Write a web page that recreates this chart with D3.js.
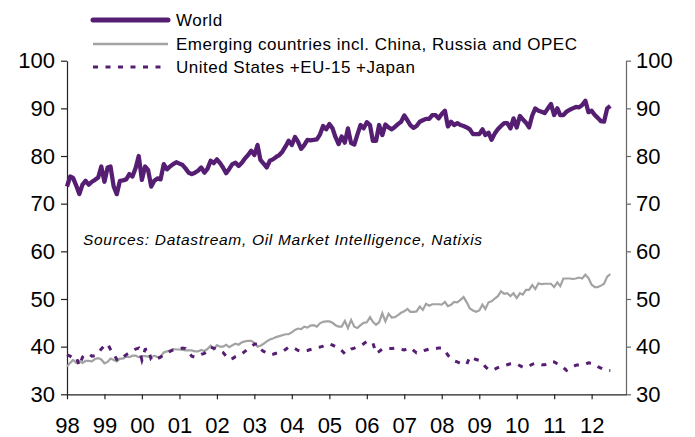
<!DOCTYPE html>
<html>
<head>
<meta charset="utf-8">
<script src="https://cdn.jsdelivr.net/npm/d3@7"></script>
<style>
body { margin: 0; background: #fff; }
text { font-family: "Liberation Sans", Arial, sans-serif; fill: #000; }
</style>
</head>
<body>
<svg id="chart" width="695" height="437"></svg>
<script>
// monthly values, Jan 1998 -> Jul 2012
var firstMonth = new Date(1998, 0, 1);

var world = [
  73.6, 75.7, 75.4, 73.8, 72.0, 74.0, 74.8, 74.0, 74.6, 75.0, 75.5, 77.8,
  74.6, 77.6, 77.8, 73.6, 72.0, 74.8, 74.9, 75.1, 76.2, 75.7, 77.5, 80.0,
  75.0, 77.8, 77.1, 73.6, 74.8, 75.3, 75.1, 78.3, 77.2, 77.8, 78.3, 78.7,
  78.4, 78.1, 77.4, 76.5, 76.2, 76.5, 76.9, 77.6, 76.5, 77.3, 79.0, 78.5,
  79.3, 78.5, 77.6, 76.4, 77.3, 78.3, 78.6, 77.9, 78.6, 79.5, 80.2, 81.1,
  80.2, 82.3, 79.2, 78.4, 77.6, 79.0, 79.3, 79.8, 80.2, 80.9, 82.0, 83.2,
  82.3, 84.0, 83.0, 81.5, 82.3, 83.4, 83.3, 83.4, 83.5, 84.5, 86.3, 85.6,
  86.7, 85.8, 84.0, 82.5, 84.1, 82.8, 85.8, 82.7, 82.4, 84.5, 86.5, 85.8,
  87.1, 86.5, 83.2, 83.2, 86.5, 84.4, 86.6, 86.0, 85.6, 86.1, 86.7, 87.2,
  88.5, 87.5, 86.5, 85.9, 86.3, 87.2, 87.5, 87.8, 87.8, 88.6, 88.6, 87.9,
  88.8, 89.5, 86.2, 87.2, 86.5, 86.9, 86.5, 86.3, 86.0, 85.6, 84.6, 84.6,
  84.6, 85.6, 84.4, 84.9, 83.4, 84.7, 85.6, 86.3, 86.9, 86.9, 85.8, 87.9,
  86.0, 88.4, 87.7, 87.0, 86.0, 88.5, 90.0, 89.5, 89.3, 89.0, 90.0, 90.9,
  88.6, 90.0, 88.6, 88.6, 89.3, 89.7, 90.0, 90.3, 90.2, 90.7, 91.6, 89.2,
  89.5, 88.6, 88.0, 87.3, 87.2, 90.0, 90.5
];

var emerging = [
  35.8, 36.6, 37.2, 36.6, 37.0, 36.6, 37.0, 37.0, 36.9, 37.4, 37.6, 37.3,
  36.5, 36.8, 37.5, 37.2, 36.9, 37.5, 37.5, 37.9, 37.8, 38.1, 38.1, 37.8,
  38.0, 38.0, 37.9, 37.8, 38.1, 37.8, 37.9, 38.8, 39.0, 39.2, 39.5, 39.4,
  39.4, 39.3, 39.2, 39.2, 39.2, 39.0, 39.0, 39.3, 39.1, 39.5, 40.2, 39.4,
  40.3, 40.0, 40.0, 40.4, 39.9, 40.3, 40.6, 40.4, 40.9, 41.1, 41.2, 41.2,
  40.8, 40.0, 40.2, 40.6, 41.1, 41.5, 41.7, 42.0, 42.2, 42.4, 42.6, 42.6,
  43.0, 43.5, 43.8, 43.7, 44.2, 44.0, 44.4, 44.5, 44.2, 44.9, 45.2, 45.3,
  45.3, 45.0, 44.5, 44.2, 44.2, 45.4, 43.9, 45.6, 44.2, 43.9, 44.5, 45.0,
  45.1, 46.2, 45.2, 44.6, 45.1, 47.0, 45.3, 46.9, 46.1, 46.2, 46.6, 47.1,
  47.4, 47.9, 47.3, 47.3, 47.4, 48.4, 47.7, 49.0, 48.6, 48.9, 48.9, 48.9,
  48.8, 49.4, 48.5, 48.8, 49.4, 49.3, 49.8, 50.4, 49.3, 48.0, 47.6, 47.3,
  47.6, 48.8, 47.9, 49.3, 49.5, 50.1, 50.6, 51.6, 51.1, 51.2, 50.6, 51.2,
  50.2, 51.2, 50.9, 51.9, 51.9, 52.9, 52.1, 53.3, 53.1, 53.2, 53.2, 53.2,
  52.5, 53.5, 52.7, 54.3, 54.3, 54.3, 54.2, 54.3, 54.5, 54.3, 55.1, 54.4,
  53.0, 52.5, 52.5, 52.8, 53.2, 54.7, 55.2
];

var developed = [
  38.3, 38.0, 37.6, 37.8, 36.0, 37.8, 38.3, 38.5, 38.0, 38.1, 38.7, 39.5,
  40.2, 40.6, 39.4, 38.5, 37.3, 37.1, 37.8, 38.3, 38.7, 39.1, 39.5, 39.7,
  37.2, 39.4, 39.6, 37.3, 37.1, 37.5, 37.8, 38.3, 38.7, 39.0, 39.3, 39.4,
  39.5, 39.7, 39.6, 38.8, 38.0, 37.8, 38.0, 38.4, 38.6, 39.2, 39.9, 39.7,
  39.5, 39.2, 38.8, 38.0, 37.3, 37.5, 37.9, 38.2, 38.5, 39.0, 39.6, 40.0,
  40.5, 40.6, 39.5, 39.0, 38.7, 38.3, 38.4, 38.6, 38.7, 38.9, 39.4, 39.9,
  39.9, 39.6, 39.2, 39.0, 39.1, 39.2, 39.4, 39.6, 39.8, 39.9, 40.1, 40.4,
  40.6, 40.3, 40.0, 39.8, 39.2, 38.5, 39.0, 39.5, 39.7, 40.0, 40.2, 40.6,
  41.1, 41.1, 40.8, 38.6, 39.0, 39.5, 39.6, 39.6, 39.6, 39.7, 39.6, 39.4,
  39.3, 39.6, 39.8, 39.2, 38.7, 38.8, 39.1, 39.3, 39.5, 39.6, 39.6, 39.7,
  39.7, 39.3, 38.2, 37.6, 37.0, 36.8, 36.5, 36.3, 36.3, 37.9, 37.6, 37.3,
  37.1, 36.5, 35.8, 35.2, 35.0, 35.3, 35.6, 35.9, 36.0, 36.2, 36.4, 36.5,
  36.4, 36.0, 35.7, 35.6, 35.9, 36.3, 36.5, 36.4, 36.2, 36.2, 36.5, 36.9,
  36.8, 36.4, 36.1, 35.6, 35.0, 35.4, 35.8, 36.1, 36.2, 36.2, 36.3, 36.6,
  36.5, 36.2, 35.8, 35.5, 35.2, 35.0, 35.0
];

var yTicks = [30, 40, 50, 60, 70, 80, 90, 100];
var seriesNames = ["World", "Emerging countries incl. China, Russia and OPEC", "United States +EU-15 +Japan"];
var source = "Sources: Datastream, Oil Market Intelligence, Natixis";

var purple = "#551e72", grey = "#a3a3a3";

var svg = d3.select("#chart");

var x = d3.scaleTime()
    .domain([firstMonth, new Date(2012, 11, 1)])
    .range([67, 626]);

var y = d3.scaleLinear()
    .domain([30, 100])
    .range([394.3, 60.7]);

function monthOf(i) { return d3.timeMonth.offset(firstMonth, i); }

var line = d3.line()
    .x(function(d, i) { return x(monthOf(i)); })
    .y(function(d) { return y(d); });

// axes
var left = svg.append("g")
    .attr("transform", "translate(67,0)")
    .call(d3.axisLeft(y).tickValues(yTicks).tickSize(6).tickSizeOuter(0).tickPadding(6));

var right = svg.append("g")
    .attr("transform", "translate(626,0)")
    .call(d3.axisRight(y).tickValues(yTicks).tickSize(5).tickSizeOuter(0).tickPadding(5));

var bottom = svg.append("g")
    .attr("transform", "translate(0,394.3)")
    .call(d3.axisBottom(x).ticks(d3.timeYear.every(1)).tickFormat(d3.timeFormat("%y"))
      .tickSize(5).tickSizeOuter(0).tickPadding(18));

[left, right, bottom].forEach(function(g) {
  g.selectAll("text").style("font-size", "22px").attr("fill", "#000");
  g.selectAll("path, line").attr("stroke", "#222").attr("stroke-width", 1.2);
});
right.selectAll("path, line").attr("stroke", "#666");
bottom.selectAll("text").attr("dy", "0.71em");

// series
svg.append("path")
    .datum(emerging)
    .attr("d", line)
    .attr("fill", "none")
    .attr("stroke", grey)
    .attr("stroke-width", 2.2);

svg.append("path")
    .datum(developed)
    .attr("d", line)
    .attr("fill", "none")
    .attr("stroke", purple)
    .attr("stroke-width", 3)
    .attr("stroke-dasharray", "5,7.5");

svg.append("path")
    .datum(world)
    .attr("d", line)
    .attr("fill", "none")
    .attr("stroke", purple)
    .attr("stroke-width", 4.3)
    .attr("stroke-linejoin", "round");

// legend
var legend = svg.append("g");
var legendY = [20, 44, 67];
var legendStyle = [
  { color: purple, width: 5, dash: null },
  { color: grey, width: 2.5, dash: null },
  { color: purple, width: 3, dash: "5,7.5" }
];
seriesNames.forEach(function(name, i) {
  legend.append("line")
      .attr("x1", 93).attr("x2", 168)
      .attr("y1", legendY[i]).attr("y2", legendY[i])
      .attr("stroke", legendStyle[i].color)
      .attr("stroke-width", legendStyle[i].width)
      .attr("stroke-linecap", i === 0 ? "round" : "butt")
      .attr("stroke-dasharray", legendStyle[i].dash);
  legend.append("text")
      .attr("x", 176)
      .attr("y", legendY[i])
      .attr("dy", "0.35em")
      .style("font-size", "17px")
      .style("letter-spacing", "0.5px")
      .text(name);
});

svg.append("text")
    .attr("x", 83)
    .attr("y", 245)
    .style("font-size", "15.5px")
    .style("font-style", "italic")
    .style("letter-spacing", "0.7px")
    .text(source);
</script>
</body>
</html>
